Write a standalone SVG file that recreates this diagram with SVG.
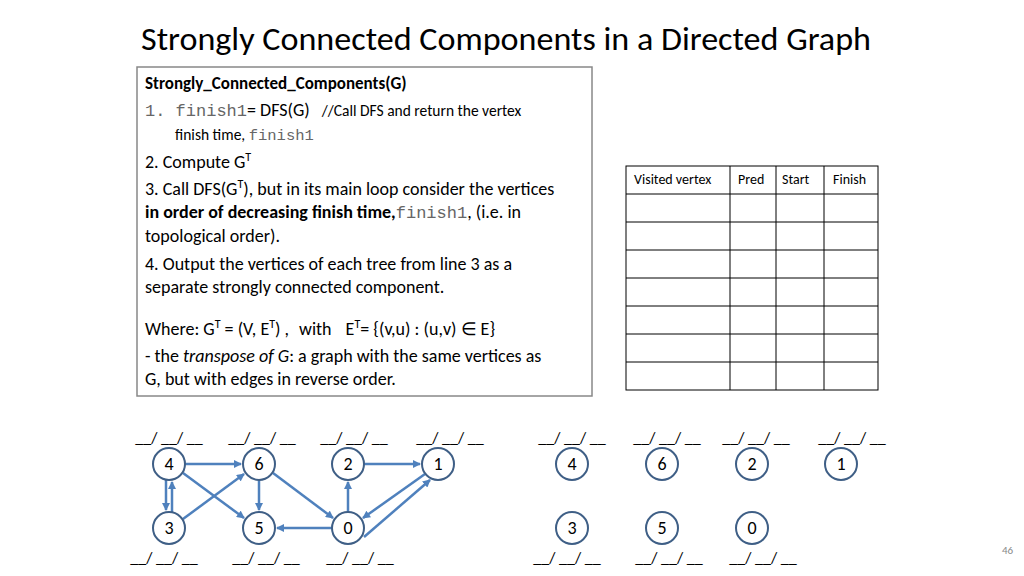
<svg xmlns="http://www.w3.org/2000/svg" width="1024" height="576" viewBox="0 0 1024 576">
<style>
text{font-family:Calibri,Carlito,"Liberation Sans",sans-serif;fill:#000}
.m{font-family:"Liberation Mono",monospace;fill:#666}
.n circle{fill:#fff;stroke:#3f5f86;stroke-width:2}
.n text{font-size:18px;text-anchor:middle}
.e line{stroke:#4f81bd;stroke-width:2.5;marker-end:url(#a)}
.b{font-size:16px;text-anchor:middle}
.t{fill:none;stroke:#000;stroke-width:1}
</style>
<defs><marker id="a" markerWidth="8" markerHeight="8" refX="7" refY="4" orient="auto" markerUnits="userSpaceOnUse"><path d="M0,0 L8,4 L0,8 z" fill="#4f81bd"/></marker></defs>
<rect width="1024" height="576" fill="#fff"/>
<text x="141" y="50" font-size="33.5" textLength="730" lengthAdjust="spacingAndGlyphs">Strongly Connected Components in a Directed Graph</text>
<rect x="137" y="67" width="455" height="329" fill="#fff" stroke="#888" stroke-width="1.5"/>
<g font-size="18">
<text x="145" y="89" font-weight="bold" font-size="17">Strongly_Connected_Components(G)</text>
<text x="145" y="116"><tspan class="m" font-size="17">1. finish1</tspan>= DFS(G)  <tspan font-size="15.5" dx="8">//Call DFS and return the vertex</tspan></text>
<text x="175" y="140" font-size="15.5">finish time, <tspan class="m">finish1</tspan></text>
<text x="145" y="168">2. Compute G<tspan font-size="12" dy="-7">T</tspan></text>
<text x="145" y="195">3. Call DFS(G<tspan font-size="12" dy="-7">T</tspan><tspan dy="7">), but in its main loop consider the vertices</tspan></text>
<text x="145" y="218"><tspan font-weight="bold">in order of decreasing finish time,</tspan><tspan class="m" font-size="17">finish1</tspan>, (i.e. in</text>
<text x="145" y="242">topological order).</text>
<text x="145" y="270">4. Output the vertices of each tree from line 3 as a</text>
<text x="145" y="293">separate strongly connected component.</text>
<text x="145" y="335">Where: G<tspan font-size="12" dy="-7">T</tspan><tspan dy="7"> = (V, E</tspan><tspan font-size="12" dy="-7">T</tspan><tspan dy="7">) ,</tspan><tspan dx="10">with</tspan><tspan dx="14">E</tspan><tspan font-size="12" dy="-7">T</tspan><tspan dy="7">= {(v,u) : (u,v) ∈ E}</tspan></text>
<text x="145" y="362">- the <tspan font-style="italic">transpose of G</tspan>: a graph with the same vertices as</text>
<text x="145" y="385">G, but with edges in reverse order.</text>
</g>
<g id="table">
<rect class="t" x="626" y="166" width="252" height="224"/>
<path class="t" d="M730,166V390M776,166V390M824,166V390M626,194H878M626,222H878M626,250H878M626,278H878M626,306H878M626,334H878M626,362H878"/>
<g font-size="14"><text x="634" y="184">Visited vertex</text><text x="738" y="184">Pred</text><text x="782" y="184">Start</text><text x="833" y="184">Finish</text></g>
</g>
<g id="labels" class="b">
<text x="169" y="443">__/ __/ __</text><text x="262" y="443">__/ __/ __</text><text x="354" y="443">__/ __/ __</text><text x="450" y="443">__/ __/ __</text>
<text x="164" y="563">__/ __/ __</text><text x="266" y="563">__/ __/ __</text><text x="360" y="563">__/ __/ __</text>
<text x="572" y="443">__/ __/ __</text><text x="667" y="443">__/ __/ __</text><text x="756" y="443">__/ __/ __</text><text x="852" y="443">__/ __/ __</text>
<text x="567" y="563">__/ __/ __</text><text x="669" y="563">__/ __/ __</text><text x="763" y="563">__/ __/ __</text>
</g>
<g id="connectors" class="e">
<line x1="185" y1="464" x2="241" y2="464"/>
<line x1="166" y1="480" x2="166" y2="510"/>
<line x1="172" y1="512" x2="172" y2="482"/>
<line x1="183" y1="473" x2="244" y2="518"/>
<line x1="183" y1="519" x2="244" y2="474"/>
<line x1="259" y1="480" x2="259" y2="510"/>
<line x1="273" y1="473" x2="333" y2="518"/>
<line x1="332" y1="528" x2="277" y2="528"/>
<line x1="348" y1="512" x2="348" y2="482"/>
<line x1="364" y1="464" x2="420" y2="464"/>
<line x1="425" y1="474" x2="363" y2="518"/>
<line x1="364" y1="537" x2="430" y2="480"/>
</g>
<g id="n4" class="n"><circle cx="169" cy="464" r="16"/><text x="169" y="470">4</text></g>
<g id="n6" class="n"><circle cx="259" cy="464" r="16"/><text x="259" y="470">6</text></g>
<g id="n2" class="n"><circle cx="348" cy="464" r="16"/><text x="348" y="470">2</text></g>
<g id="n1" class="n"><circle cx="438" cy="464" r="16"/><text x="438" y="470">1</text></g>
<g id="n3" class="n"><circle cx="169" cy="528" r="16"/><text x="169" y="534">3</text></g>
<g id="n5" class="n"><circle cx="259" cy="528" r="16"/><text x="259" y="534">5</text></g>
<g id="n0" class="n"><circle cx="348" cy="528" r="16"/><text x="348" y="534">0</text></g>
<g id="m4" class="n"><circle cx="572" cy="464" r="16"/><text x="572" y="470">4</text></g>
<g id="m6" class="n"><circle cx="662" cy="464" r="16"/><text x="662" y="470">6</text></g>
<g id="m2" class="n"><circle cx="752" cy="464" r="16"/><text x="752" y="470">2</text></g>
<g id="m1" class="n"><circle cx="841" cy="464" r="16"/><text x="841" y="470">1</text></g>
<g id="m3" class="n"><circle cx="572" cy="528" r="16"/><text x="572" y="534">3</text></g>
<g id="m5" class="n"><circle cx="662" cy="528" r="16"/><text x="662" y="534">5</text></g>
<g id="m0" class="n"><circle cx="752" cy="528" r="16"/><text x="752" y="534">0</text></g>
<text x="1002" y="554" font-size="11" style="fill:#888">46</text>
</svg>
